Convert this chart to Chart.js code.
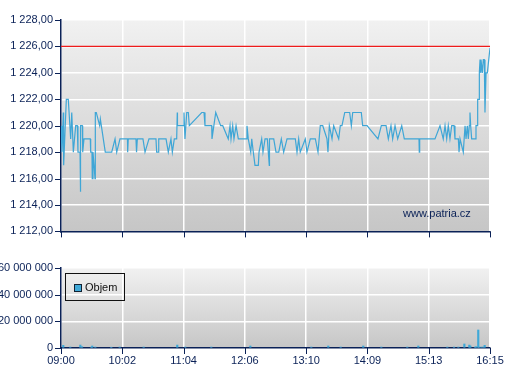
<!DOCTYPE html>
<html>
<head>
<meta charset="utf-8">
<script src="https://cdn.jsdelivr.net/npm/chart.js@4.4.0/dist/chart.umd.min.js"></script>
<style>
  html, body { margin: 0; padding: 0; background: #ffffff; }
  body { width: 507px; height: 380px; position: relative; overflow: hidden; font-family: "Liberation Sans", Arial, sans-serif; }
  #c1 { position: absolute; left: 0; top: 0; }
  #c2 { position: absolute; left: 0; top: 250px; }
  #legend { position: absolute; left: 65px; top: 273px; width: 58px; height: 26px; border: 1px solid #111; }
  #legend .sw { position: absolute; left: 8px; top: 10px; width: 6px; height: 6px; background: #3fa9d8; border: 1px solid #123; }
  #legend .tx { position: absolute; left: 19px; top: 7px; font-size: 11px; color: #111; line-height: 13px; }
  #wm { position: absolute; left: 403px; top: 207px; font-size: 11px; color: #0a2157; line-height: 13px; }
</style>
</head>
<body>
<canvas id="c1" width="507" height="246"></canvas>
<canvas id="c2" width="507" height="130"></canvas>
<div id="legend"><div class="sw"></div><div class="tx">Objem</div></div>
<div id="wm">www.patria.cz</div>
<script>
// ---- data (minutes since session open on a 0..435 axis) ----
const xTickPositions = [0, 62.14, 124.29, 186.43, 248.57, 310.71, 372.86, 435];
const xTickLabels = ['09:00', '10:02', '11:04', '12:06', '13:10', '14:09', '15:13', '16:15'];

const priceTicks = [1212, 1214, 1216, 1218, 1220, 1222, 1224, 1226, 1228];
const priceTickLabels = ['1 212,00', '1 214,00', '1 216,00', '1 218,00', '1 220,00', '1 222,00', '1 224,00', '1 226,00', '1 228,00'];
const volTicks = [0, 20000000, 40000000, 60000000];
const volTickLabels = ['0', '20 000 000', '40 000 000', '60 000 000'];

const referencePrice = 1226;

const priceTimes = [0,1,2.3,2.7,5.4,7.4,9.8,10.9,12.5,14.9,16.5,17.2,19.3,19.6,20,21.6,22,23.3,29.7,30.1,31.4,31.7,32.4,33.5,34.5,34.8,35.8,39.2,39.9,44.9,51.4,54.8,56.5,59.8,67.4,67.6,68.2,76,76.6,77.4,83.1,85.2,89.2,96.3,97,98.7,99.1,106.5,108.8,111.5,112.9,114.9,117.3,117.9,118.1,124,124.7,125.7,127.5,129.1,130.1,142.7,145,146,152.8,153.1,156.9,161.9,164,169.6,171.4,172.4,174.1,175.4,177.5,179.8,188.3,188.6,189.9,192.4,193.4,195,196.7,200.1,200.8,203.5,204.8,206.9,209.2,211.2,211.4,214,215.7,218,220.8,223.4,225.8,229.2,237.6,239.3,241,242.6,247.7,249.4,252.8,257.9,260.6,262.9,265.4,269.7,270.7,272.1,274.8,276.5,281.6,283.2,284.9,287.7,292.7,294.4,295.8,304.5,305.9,310.3,321.4,324.8,329.6,331.9,334.6,336.3,338.7,341.4,345.5,348.1,363,363.3,363.7,379.2,384.3,387.6,389.4,391.1,392.7,394.4,396.2,398.5,399.5,402.9,403.6,404.6,407.9,409.7,410.7,412,413,414,414.7,415.4,416.4,420.5,420.8,422.1,422.5,423.9,424.2,424.9,425.6,425.9,427.2,428.2,429.2,429.9,431,432.3,435];
const prices = [1220,1218,1221,1217,1222,1222,1219,1221,1218,1220,1220,1218,1218,1215,1220,1220,1218,1219,1219,1218,1218,1216,1218,1217,1216,1221,1221,1220,1220.5,1218,1218,1219,1218,1219,1219,1218,1219,1219,1218,1219,1219,1218,1219,1219,1218,1218,1219,1219,1218,1219,1218,1219,1219,1221,1220,1220,1221,1219,1221,1221,1220,1221,1221,1220,1220,1219,1221,1220,1220,1219,1220,1219,1220,1219,1220,1219,1219,1220,1219,1218,1219,1218,1217,1217,1218,1219,1218,1219,1219,1217,1219,1219,1219,1218,1218,1219,1218,1219,1219,1218,1219,1218,1219,1218,1219,1219,1218,1220,1220,1219,1218,1220,1219,1220,1219,1220,1220,1221,1221,1220,1221,1221,1220,1220,1219,1220,1220,1219,1220,1219,1220,1219,1220,1219,1219,1218,1219,1219,1220,1219,1220,1219,1220,1219,1220,1220,1219,1219,1218,1219,1218,1220,1219,1220,1219,1220,1221,1220,1219,1219,1220,1220,1222,1222,1224,1225,1224,1225,1224,1225,1225,1221,1224,1224,1225.9];

const volTimes = [2.3,9.4,19.6,21.3,30.7,31.7,34.8,51,59.5,83.8,117.9,126,152.4,192,253.8,271,283.6,306.5,324.8,351.1,362.3,391.7,398.5,402.9,409,414,415.1,419.8,421.1,423.1,423.9,426.2,428.2,429.6];
const volumes = [2000000,700000,2200000,1000000,700000,1500000,700000,500000,700000,700000,2200000,700000,700000,1500000,700000,1500000,700000,1500000,700000,700000,1500000,700000,700000,700000,3000000,2200000,1500000,700000,1000000,13500000,700000,700000,700000,2000000];

// ---- styling helpers ----
const NAVY = '#0a2157';
const FONT = { family: '"Liberation Sans", Arial, sans-serif', size: 11 };

const bgPlugin = {
  id: 'bgGrad',
  beforeDraw(chart) {
    const a = chart.chartArea, ctx = chart.ctx;
    const g = ctx.createLinearGradient(0, a.top, 0, a.bottom);
    g.addColorStop(0, '#f1f1f1');
    g.addColorStop(1, '#c6c6c6');
    ctx.save();
    ctx.fillStyle = g;
    ctx.fillRect(a.left, a.top, a.right - a.left, a.bottom - a.top);
    ctx.restore();
  }
};

const tickMarkPlugin = {
  id: 'tickMarks',
  afterDraw(chart) {
    const ctx = chart.ctx, a = chart.chartArea;
    const xs = chart.scales.x, ys = chart.scales.y;
    ctx.save();
    ctx.strokeStyle = NAVY;
    ctx.lineWidth = 1;
    ctx.beginPath();
    ys.ticks.forEach((t, i) => {
      const y = Math.round(ys.getPixelForTick(i)) + 0.5;
      ctx.moveTo(a.left - 6, y); ctx.lineTo(a.left, y);
    });
    xs.ticks.forEach((t, i) => {
      const x = Math.round(xs.getPixelForTick(i)) + 0.5;
      ctx.moveTo(x, a.bottom); ctx.lineTo(x, a.bottom + 6);
    });
    ctx.stroke();
    ctx.restore();
  }
};

function xScale(showLabels, height) {
  return {
    type: 'linear', min: 0, max: 435, offset: false,
    afterBuildTicks(s) { s.ticks = xTickPositions.map(v => ({ value: v })); },
    afterFit(s) { s.height = height; s.paddingLeft = 0; s.paddingRight = 0; },
    ticks: {
      display: showLabels, autoSkip: false, maxRotation: 0, padding: 6,
      color: NAVY, font: FONT,
      callback(v, i) { return xTickLabels[i]; }
    },
    grid: { color: '#ffffff', lineWidth: 1.5, drawTicks: false, offset: false },
    border: { display: true, color: NAVY, width: 1.5 }
  };
}

function yScale(min, max, tickVals, tickLabels) {
  return {
    type: 'linear', min: min, max: max,
    afterBuildTicks(s) { s.ticks = tickVals.map(v => ({ value: v })); },
    afterFit(s) { s.width = 61; },
    ticks: {
      color: NAVY, font: FONT, padding: 8,
      callback(v, i) { return tickLabels[i]; }
    },
    grid: { color: '#ffffff', lineWidth: 1.5, drawTicks: false },
    border: { display: true, color: NAVY, width: 1.5 }
  };
}

new Chart(document.getElementById('c1'), {
  type: 'line',
  data: {
    datasets: [
      {
        label: 'Kurz',
        data: priceTimes.map((t, i) => ({ x: t, y: prices[i] })),
        borderColor: '#3fa6d6', borderWidth: 1.2, pointRadius: 0, tension: 0, fill: false
      },
      {
        label: 'Ref',
        data: [{ x: 0, y: referencePrice }, { x: 435, y: referencePrice }],
        borderColor: '#ee1c1c', borderWidth: 1.3, pointRadius: 0, fill: false
      }
    ]
  },
  options: {
    responsive: false, animation: false, devicePixelRatio: 1,
    layout: { padding: { top: 20, right: 17, left: 0, bottom: 0 } },
    plugins: { legend: { display: false }, tooltip: { enabled: false } },
    scales: {
      x: xScale(false, 10),
      y: yScale(1212, 1228, priceTicks, priceTickLabels)
    }
  },
  plugins: [bgPlugin, tickMarkPlugin]
});

new Chart(document.getElementById('c2'), {
  type: 'bar',
  data: {
    datasets: [{
      label: 'Objem',
      data: volTimes.map((t, i) => ({ x: t, y: volumes[i] })),
      backgroundColor: '#3fa9d8', barThickness: 1.5
    }]
  },
  options: {
    responsive: false, animation: false, devicePixelRatio: 1,
    layout: { padding: { top: 18, right: 17, left: 0, bottom: 0 } },
    plugins: { legend: { display: false }, tooltip: { enabled: false } },
    scales: {
      x: xScale(true, 32),
      y: yScale(0, 60000000, volTicks, volTickLabels)
    }
  },
  plugins: [bgPlugin, tickMarkPlugin]
});
</script>
</body>
</html>
